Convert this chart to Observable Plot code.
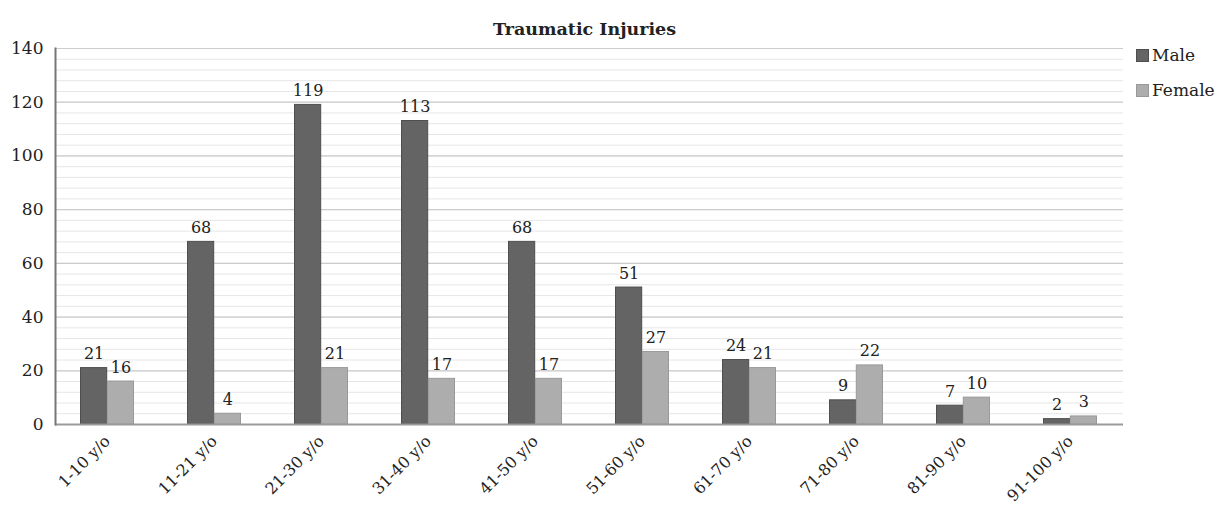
<!DOCTYPE html>
<html>
<head>
<meta charset="utf-8">
<script src="https://cdn.jsdelivr.net/npm/d3@7"></script>
<script src="https://cdn.jsdelivr.net/npm/@observablehq/plot@0.6"></script>
<style>
  body { margin: 0; background: #fff; font-family: "DejaVu Serif", serif; }
  #wrap { position: relative; width: 1221px; height: 508px; }
  .legend { position: absolute; left: 1136px; font-size: 17px; color: #222; display: flex; align-items: center; }
  .legend span.sw { display: inline-block; width: 13px; height: 13px; margin-right: 3px; box-sizing: border-box; }
</style>
</head>
<body>
<div id="wrap"></div>
<script>
const categories = ["1-10 y/o","11-21 y/o","21-30 y/o","31-40 y/o","41-50 y/o","51-60 y/o","61-70 y/o","71-80 y/o","81-90 y/o","91-100 y/o"];
const series = ["Male", "Female"];
const male = [21, 68, 119, 113, 68, 51, 24, 9, 7, 2];
const female = [16, 4, 21, 17, 17, 27, 21, 22, 10, 3];
const yTicks = [0, 20, 40, 60, 80, 100, 120, 140];
const title = "Traumatic Injuries";

const colors = {Male: "#646464", Female: "#adadad"};
const strokes = {Male: "#4e4e4e", Female: "#999999"};

const W = 1221, H = 508, mL = 55, mR = 98, mT = 48, mB = 84;
const xRange = [52, 1124];
const step = (xRange[1] - xRange[0]) / categories.length;
const bw = step * 0.5;           // band width (paddingInner .5)
const half = bw / 2;

const values = {Male: male, Female: female};
const rows = series.map(s => categories.map((c, i) => ({age: c, sex: s, value: values[s][i]})));

const minor = d3.range(0, 141, 4);

const marks = [
  Plot.ruleY(minor, {stroke: "#e6e6e6", strokeWidth: 1}),
  Plot.ruleY(yTicks.filter(d => d > 0), {stroke: "#cccccc", strokeWidth: 1.2}),
];
series.forEach((s, k) => {
  const data = rows[k];
  marks.push(Plot.barY(data, {
    x: "age", y: "value",
    fill: colors[s], stroke: strokes[s], strokeWidth: 1,
    insetLeft: k === 0 ? 0.5 : half + 0.5,
    insetRight: k === 0 ? half + 0.5 : 0.5
  }));
  marks.push(Plot.text(data, {
    x: "age", y: "value", text: d => String(d.value),
    dx: k === 0 ? -half / 2 : half / 2, dy: -9,
    lineAnchor: "bottom", fontSize: 16, fill: "#222"
  }));
});
marks.push(
  Plot.ruleY([0], {stroke: "#9a9a9a", strokeWidth: 2}),
  Plot.frame({anchor: "left", stroke: "#777", strokeWidth: 2}),
  Plot.axisY({ticks: yTicks, tickSize: 0, tickPadding: 12, fontSize: 17, fill: "#222", label: null}),
  Plot.axisX({tickRotate: -45, tickSize: 0, tickPadding: 14, fontSize: 16, fill: "#222", label: null}),
  Plot.text([title], {frameAnchor: "top", dx: -5, dy: -14, lineAnchor: "bottom", fontSize: 17.5, fontWeight: "bold", fill: "#222"})
);

const chart = Plot.plot({
  width: W, height: H,
  marginLeft: mL, marginRight: mR, marginTop: mT, marginBottom: mB,
  style: {fontFamily: "DejaVu Serif", background: "#fff"},
  x: {domain: categories, range: xRange, paddingInner: 0.5, paddingOuter: 0.25, label: null},
  y: {domain: [0, 140], label: null},
  marks
});

const wrap = document.getElementById("wrap");
wrap.appendChild(chart);
series.forEach((s, k) => {
  const d = document.createElement("div");
  d.className = "legend";
  d.style.top = (k === 0 ? 45 : 80) + "px";
  d.innerHTML = `<span class="sw" style="background:${colors[s]};border:1px solid ${strokes[s]}"></span>${s}`;
  wrap.appendChild(d);
});
</script>
</body>
</html>
